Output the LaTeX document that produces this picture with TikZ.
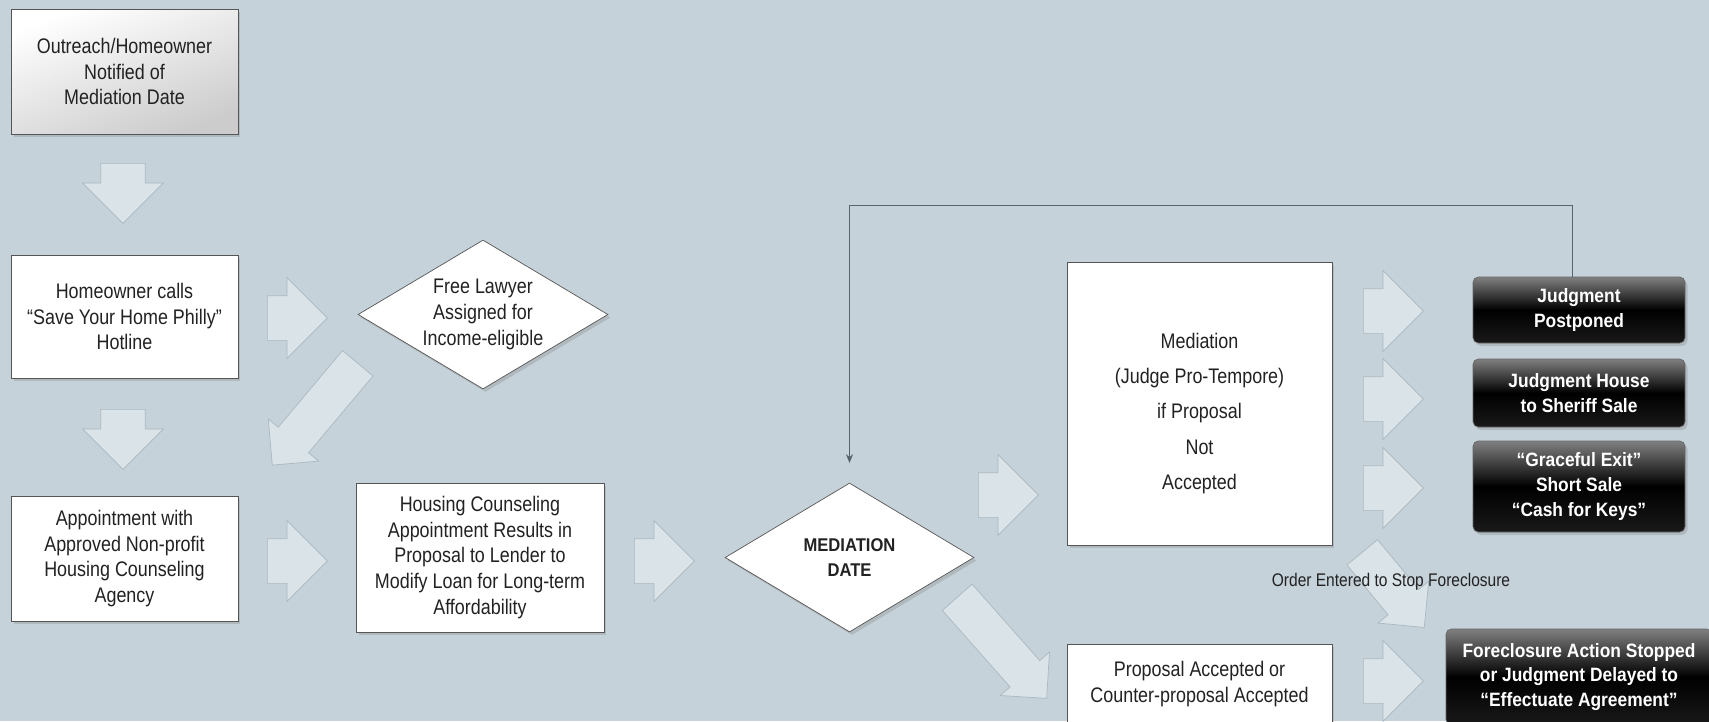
\documentclass[tikz,border=0pt]{standalone}
\usepackage{fontspec}
\setmainfont[FakeStretch=0.85, BoldFeatures={FakeStretch=0.9}]{Liberation Sans}
\usetikzlibrary{shapes.geometric,shapes.arrows,shadows,arrows.meta}
\definecolor{bg}{HTML}{C5D2D9}
\definecolor{fatfill}{HTML}{D9E3E8}
\definecolor{fatline}{HTML}{ABB8C0}
\definecolor{ink}{HTML}{222222}
\definecolor{frame}{HTML}{555555}
\definecolor{loopline}{HTML}{58636B}
\begin{document}
\begin{tikzpicture}[x=0.02cm, y=-0.02cm,
        box/.style={draw=frame, fill=white, text=ink, align=center, inner sep=0pt,
            font=\fontsize{12}{14.7}\selectfont,
            drop shadow={shadow xshift=0.5mm, shadow yshift=-0.6mm, opacity=0.3}},
        dia/.style={box, diamond, aspect=1.68},
        dark/.style={rounded corners=3pt, draw=black!60, top color=black!50, bottom color=black!90,
            middle color=black, text=white, align=center, inner sep=0pt,
            font=\bfseries\fontsize{11}{14}\selectfont,
            drop shadow={shadow xshift=0.5mm, shadow yshift=-0.6mm, opacity=0.3}},
        fat/.style={single arrow, draw=fatline, fill=fatfill, anchor=tail, inner xsep=0pt,
            inner ysep=0.44cm, minimum width=1.6cm, single arrow head extend=0.36cm,
            single arrow tip angle=90, single arrow head indent=0pt, minimum height=1.2cm},
        slant/.style={fat, inner ysep=0.39cm, minimum width=1.3cm, single arrow head extend=0.26cm}]
    \fill[bg] (0,0) rectangle (1709,721);
    \useasboundingbox (0,0) rectangle (1709,721);

    \node[box, top color=white, bottom color=black!20, shading angle=20,
        minimum width=4.54cm, minimum height=2.5cm] (out) at (124.5,71.5)
        {Outreach/Homeowner\\Notified of\\Mediation Date};
    \node[box, minimum width=4.54cm, minimum height=2.46cm] (call) at (124.5,316.5)
        {Homeowner calls\\``Save Your Home Philly''\\Hotline};
    \node[box, minimum width=4.54cm, minimum height=2.5cm] (appt) at (124.5,558.5)
        {Appointment with\\Approved Non-profit\\Housing Counseling\\Agency};
    \node[dia, minimum width=5cm, minimum height=2.98cm] (law) at (483,314.5)
        {Free Lawyer\\Assigned for\\Income-eligible};
    \node[box, minimum width=4.96cm, minimum height=2.98cm] (hc) at (480,557.5)
        {Housing Counseling\\Appointment Results in\\Proposal to Lender to\\Modify Loan for Long-term\\Affordability};
    \node[dia, minimum width=4.98cm, minimum height=2.98cm,
        font=\bfseries\fontsize{10.5}{14.2}\selectfont] (med) at (849.5,557.5)
        {MEDIATION\\DATE};
    \node[box, minimum width=5.3cm, minimum height=5.66cm,
        font=\fontsize{12}{20}\selectfont] (judge) at (1199.5,403.5)
        {\rule{0pt}{20pt}Mediation\\(Judge Pro-Tempore)\\if Proposal\\Not\\Accepted};
    \node[box, minimum width=5.3cm, minimum height=1.6cm] (acc) at (1199.5,684)
        {Proposal Accepted or\\Counter-proposal Accepted};

    \node[dark, minimum width=4.24cm, minimum height=1.32cm] (post) at (1579,310)
        {Judgment\\Postponed};
    \node[dark, minimum width=4.24cm, minimum height=1.36cm] (sale) at (1579,393)
        {Judgment House\\to Sheriff Sale};
    \node[dark, minimum width=4.24cm, minimum height=1.82cm] (exit) at (1579,486.5)
        {``Graceful Exit''\\Short Sale\\``Cash for Keys''};
    \node[dark, minimum width=5.32cm, minimum height=1.92cm] (stop) at (1579,677)
        {Foreclosure Action Stopped\\or Judgment Delayed to\\``Effectuate Agreement''};

    % block arrows
    \node[fat, rotate=-90] (a1) at (123,163) {};
    \node[fat, rotate=-90] (a2) at (123,409) {};
    \node[fat] (a3) at (267,318) {};
    \node[slant, rotate=-130, minimum height=2.66cm] (a4) at (358,363) {};
    \node[fat] (a5) at (267,561) {};
    \node[fat] (a6) at (634,561) {};
    \node[fat] (a7) at (978,495) {};
    \node[slant, rotate=-48.5, minimum height=2.7cm] (a8) at (957,597) {};
    \node[fat] (a9) at (1363,311) {};
    \node[fat] (a10) at (1363,399) {};
    \node[fat] (a11) at (1363,488) {};
    \node[slant, rotate=-50.5, minimum height=1.95cm] (a12) at (1362,552) {};
    \node[fat] (a13) at (1363,681) {};

    \node[text=ink, font=\fontsize{10.4}{12}\selectfont] (ord) at (1391,582)
        {Order Entered to Stop Foreclosure};

    % back to the mediation date
    \coordinate (back) at (849.5,463);
    \draw[loopline, line width=0.6pt, -{Stealth[length=5pt,width=4pt]}]
        ([xshift=-0.14cm]post.north) -- ++(0,-71) -| (back);
\end{tikzpicture}
\end{document}
